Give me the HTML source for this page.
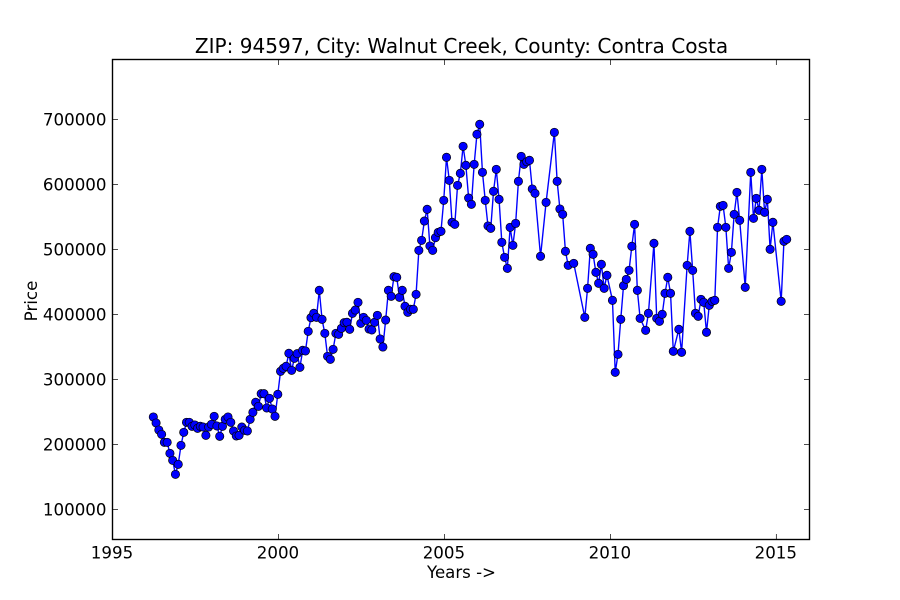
<!DOCTYPE html>
<html lang="en">
<head>
<meta charset="utf-8">
<title>ZIP: 94597, City: Walnut Creek, County: Contra Costa</title>
<style>
html,body{margin:0;padding:0;background:#fff;width:900px;height:600px;overflow:hidden}
svg{display:block}
text{font-family:"DejaVu Sans","Liberation Sans",sans-serif;fill:#000}
</style>
</head>
<body>
<svg id="chart" xmlns="http://www.w3.org/2000/svg" width="900" height="600" viewBox="0 0 900 600">
  <rect x="0" y="0" width="900" height="600" fill="#fff"/>
  <text x="461.5" y="53" font-size="20.07" text-anchor="middle">ZIP: 94597, City: Walnut Creek, County: Contra Costa</text>
  <text x="461.5" y="578" font-size="16.6" text-anchor="middle">Years -&gt;</text>
  <text x="0" y="0" font-size="16.67" text-anchor="middle" transform="translate(37 301) rotate(-90)">Price</text>
  <g id="ticks"></g>
  <g id="series"></g>
  <rect x="112.5" y="59.5" width="697" height="480" fill="none" stroke="#000" stroke-width="1.39"/>
</svg>
<script>
var firstYear = 1996.23;
var xTickLabels = [1995, 2000, 2005, 2010, 2015];
var yTickLabels = [100000, 200000, 300000, 400000, 500000, 600000, 700000];
var monthIndex = [
0,1,2,3,4,5,6,7,8,9,10,11,12,13,14,15,16,17,18,19,20,21,22,23,24,25,26,27,28,29,
30,31,32,33,34,35,36,37,38,39,40,41,42,43,44,45,46,47,48,49,50,51,52,53,54,55,56,57,58,59,
60,61,62,63,64,65,66,67,68,69,70,71,72,73,74,75,76,77,78,79,80,81,82,83,84,85,86,87,88,89,
90,91,92,93,94,95,96,97,98,99,100,101,102,103,104,105,106,107,108,109,110,111,112,113,114,115,116,117,118,119,
120,121,122,123,124,125,126,127,128,129,130,131,132,133,134,135,136,137,138,140,142,145,146,147,148,149,150,152,156,157,
158,159,160,161,162,163,164,166,167,168,169,170,171,172,173,174,175,176,178,179,181,182,183,184,185,186,187,188,190,191,
193,194,195,196,197,198,199,200,201,202,203,204,205,206,207,208,209,210,211,212,214,216,217,218,219,220,221,222,223,224,
227,228,229
];
var prices = [
242300,233100,222300,215600,203300,203300,186400,175600,154100,169500,198700,218700,234100,234100,228000,230000,224900,228000,226900,214100,226900,231000,243300,228500,212600,228000,238700,242300,234100,220800,
213100,214100,226900,221800,220800,238700,249500,264900,258700,278200,278200,256200,271000,254600,243300,277200,312600,317200,320300,340300,314100,332600,339700,318700,344900,343900,374100,395100,401800,395600,
437200,392600,371000,335600,331000,346400,371000,369500,378700,387400,388000,377200,401800,406900,418700,386400,395600,391000,377700,376200,388000,398700,362300,350000,391500,437200,428000,458200,457200,426400,
437200,412600,403300,408000,408000,431000,498700,514100,543800,561800,505400,498700,518200,526400,528000,575600,641800,606400,541800,538700,598700,617200,658700,629500,579200,569500,631000,677200,692600,618700,
575600,536200,532600,589500,623300,577200,511000,487900,471000,534100,506400,540200,604900,643300,631000,635100,637200,593100,586400,489500,572500,680200,604900,562300,554100,497200,475600,478700,395600,440300,
501800,492600,464900,448000,477200,440300,460300,421800,311000,338700,392600,444400,454100,467900,504900,538700,437200,394100,375600,401800,509500,394100,389500,400300,432600,457200,432600,343300,377200,341800,
475600,528000,467900,401800,397200,423300,418700,372600,414100,420300,421800,534100,566400,567900,534100,471000,495600,554100,587900,544900,441800,618700,547900,578700,560300,623300,557200,577200,500300,541800,
420300,512600,515600
];

var SVG_NS = 'http://www.w3.org/2000/svg';
function xScale(year) { return 112.5 + (year - 1995) * (697 / 21); }
function yScale(price) { return 509.5 - (price - 100000) * (390 / 600000); }
function svgEl(tag, attrs) {
  var el = document.createElementNS(SVG_NS, tag);
  for (var k in attrs) el.setAttribute(k, attrs[k]);
  return el;
}
var tickGroup = document.getElementById('ticks');
var seriesGroup = document.getElementById('series');

xTickLabels.forEach(function (year) {
  var x = xScale(year);
  var bottom = svgEl('line', {x1: x, x2: x, y1: 539.5, y2: 534, stroke: '#000', 'stroke-width': 0.7});
  
  
  tickGroup.appendChild(bottom);
  var top = svgEl('line', {x1: x, x2: x, y1: 59.5, y2: 65, stroke: '#000', 'stroke-width': 0.7});
  
  
  tickGroup.appendChild(top);
  var label = svgEl('text', {x: x - 0.5, y: 558.5, 'font-size': 16.67, 'text-anchor': 'middle'});
  
  
  label.textContent = year;
  tickGroup.appendChild(label);
});

yTickLabels.forEach(function (price) {
  var y = yScale(price);
  var left = svgEl('line', {x1: 112.5, x2: 118, y1: y, y2: y, stroke: '#000', 'stroke-width': 0.7});
  
  
  tickGroup.appendChild(left);
  var right = svgEl('line', {x1: 809.5, x2: 804, y1: y, y2: y, stroke: '#000', 'stroke-width': 0.7});
  
  
  tickGroup.appendChild(right);
  var label = svgEl('text', {x: 106.5, y: y + 6, 'font-size': 16.67, 'text-anchor': 'end'});
  
  
  label.textContent = price;
  tickGroup.appendChild(label);
});

var linePoints = prices.map(function (p, i) {
  return xScale(firstYear + monthIndex[i] / 12).toFixed(2) + ',' + yScale(p).toFixed(2);
}).join(' ');
var priceLine = svgEl('polyline', {points: linePoints, fill: 'none', stroke: '#0000ff', 'stroke-width': 1.39, 'stroke-linejoin': 'round'});


seriesGroup.appendChild(priceLine);

prices.forEach(function (p, i) {
  var dot = svgEl('circle', {cx: xScale(firstYear + monthIndex[i] / 12), cy: yScale(p), r: 4.17, fill: '#0000ff', stroke: '#000', 'stroke-width': 0.7});
  
  
  seriesGroup.appendChild(dot);
});
</script>
</body>
</html>
